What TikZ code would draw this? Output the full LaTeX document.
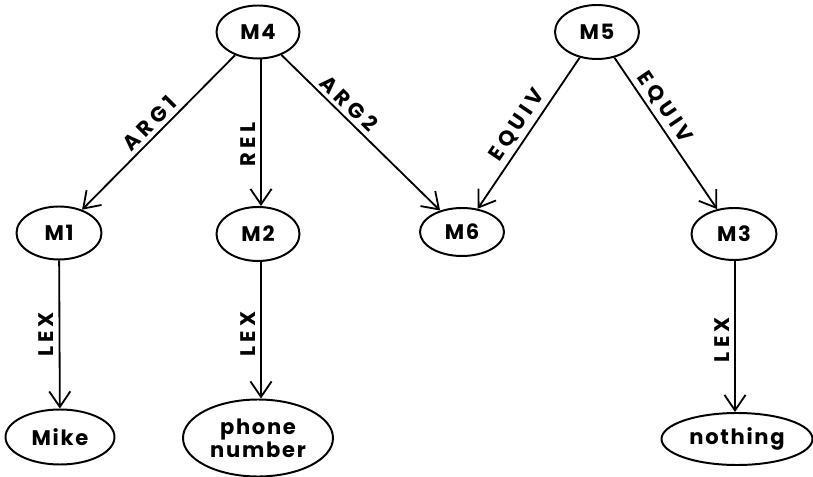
\documentclass[tikz,border=0pt]{standalone}
\usepackage{fontspec}
\setmainfont{Poppins}
\usetikzlibrary{arrows.meta,shapes.geometric}

\tikzset{
    concept/.style={draw, ellipse, line width=1.4pt, inner sep=0pt, align=center,
        font=\bfseries\fontsize{15}{15}\selectfont\addfontfeature{LetterSpace=8}},
    link/.style={-{Straight Barb[length=11pt,width=15pt,line width=1.3pt]}, line width=1.3pt},
    linkfont/.style={font=\bfseries\fontsize{15}{15}\selectfont\addfontfeature{LetterSpace=20}},
    linklabel/.style={linkfont, sloped, above, inner sep=3pt},
    vlabel/.style={linkfont, rotate=90, anchor=south, inner sep=3.5pt}
}

\begin{document}
\begin{tikzpicture}[x=0.025cm, y=-0.025cm]

    \useasboundingbox (0,0) rectangle (813,477);

    % nodes (concepts)
    \node[concept, minimum width=83*0.025cm, minimum height=53*0.025cm] (M4) at (258,32) {M4};
    \node[concept, minimum width=84*0.025cm, minimum height=54*0.025cm] (M5) at (597,32) {M5};
    \node[concept, minimum width=85*0.025cm, minimum height=53*0.025cm] (M1) at (59,233) {M1};
    \node[concept, minimum width=83*0.025cm, minimum height=54*0.025cm] (M2) at (258,234) {M2};
    \node[concept, minimum width=84*0.025cm, minimum height=48*0.025cm] (M6) at (462,232) {M6};
    \node[concept, minimum width=85*0.025cm, minimum height=52*0.025cm] (M3) at (734,234) {M3};
    \node[concept, minimum width=109*0.025cm, minimum height=55*0.025cm] (mike) at (60,437) {Mike};
    \node[concept, minimum width=150*0.025cm, minimum height=77*0.025cm] (phone) at (258,438) {phone\\number};
    \node[concept, minimum width=151*0.025cm, minimum height=52*0.025cm] (nothing) at (737,439) {nothing};

    % edges
    \draw[link] (M4) to node[linklabel] {ARG1} (M1); % M4 -> M1
    \draw[link] (M4.south -| 261,0) to node[vlabel, pos=0.58] {REL} (M2.north -| 261,0); % M4 -> M2
    \draw[link] (M4) to node[linklabel, pos=0.37] {ARG2} (M6); % M4 -> M6
    \draw[link] (M5) to node[linklabel] {EQUIV} (M6); % M5 -> M6
    \draw[link] (M5) to node[linklabel, pos=0.38] {EQUIV} (M3); % M5 -> M3
    \draw[link] (M1) to node[vlabel] {LEX} (mike); % M1 -> Mike
    \draw[link] (M2.south -| 261,0) to node[vlabel, pos=0.53] {LEX} (phone.north -| 261,0); % M2 -> phone number
    \draw[link] (M3.south -| 735,0) to node[vlabel, pos=0.52] {LEX} (nothing.north -| 735,0); % M3 -> nothing

\end{tikzpicture}
\end{document}
